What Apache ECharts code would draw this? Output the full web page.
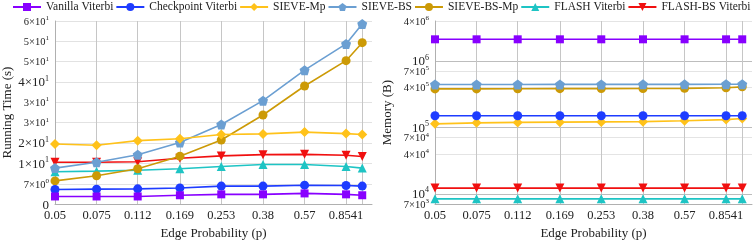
<!DOCTYPE html>
<html><head><meta charset="utf-8">
<script src="https://cdn.jsdelivr.net/npm/echarts@6/dist/echarts.min.js"></script>
<style>html,body{margin:0;padding:0;background:#fff}#c{width:753px;height:245px}</style>
</head><body><div id="c"></div>
<script>
// ---- data ----
const pValues = [0.05, 0.075, 0.112, 0.169, 0.253, 0.38, 0.57, 0.8541, 1.0];
const xTickLabels = ['0.05', '0.075', '0.112', '0.169', '0.253', '0.38', '0.57', '0.8541'];
const seriesNames = ['Vanilla Viterbi', 'Checkpoint Viterbi', 'SIEVE-Mp', 'SIEVE-BS', 'SIEVE-BS-Mp', 'FLASH Viterbi', 'FLASH-BS Viterbi'];

// Running time (s)
const timeVanilla    = [2.5, 2.5, 2.5, 2.9, 3.2, 3.2, 3.5, 3.2, 2.9];
const timeCheckpoint = [4.8, 4.9, 5.0, 5.3, 5.9, 5.9, 6.2, 6.1, 5.9];
const timeSieveMp    = [19.7, 19.3, 20.8, 21.4, 22.8, 23.0, 23.6, 23.1, 22.8];
const timeSieveBS    = [11.8, 13.7, 16.2, 20.2, 26.1, 33.9, 43.9, 52.5, 59.0];
const timeSieveBSMp  = [7.6, 9.3, 11.6, 15.7, 21.0, 29.2, 38.7, 47.0, 52.9];
const timeFlash      = [10.6, 10.8, 11.1, 11.6, 12.3, 13.0, 13.0, 12.3, 11.8];
const timeFlashBS    = [13.7, 13.7, 13.9, 15.0, 15.8, 16.2, 16.3, 16.0, 15.6];

// Memory (B)
const memVanilla    = [2.12e6, 2.12e6, 2.12e6, 2.12e6, 2.12e6, 2.12e6, 2.12e6, 2.12e6, 2.12e6];
const memCheckpoint = [1.5e5, 1.5e5, 1.5e5, 1.5e5, 1.5e5, 1.5e5, 1.5e5, 1.5e5, 1.5e5];
const memSieveMp    = [1.13e5, 1.17e5, 1.19e5, 1.2e5, 1.21e5, 1.22e5, 1.26e5, 1.31e5, 1.36e5];
const memSieveBS    = [4.42e5, 4.43e5, 4.43e5, 4.44e5, 4.44e5, 4.45e5, 4.45e5, 4.46e5, 4.46e5];
const memSieveBSMp  = [3.8e5, 3.8e5, 3.82e5, 3.83e5, 3.84e5, 3.85e5, 3.87e5, 3.95e5, 4.08e5];
const memFlash      = [8.4e3, 8.4e3, 8.4e3, 8.4e3, 8.4e3, 8.4e3, 8.4e3, 8.4e3, 8.4e3];
const memFlashBS    = [1.22e4, 1.22e4, 1.22e4, 1.22e4, 1.22e4, 1.22e4, 1.22e4, 1.22e4, 1.22e4];

const memTicks = [7e3, 1e4, 4e4, 7e4, 1e5, 4e5, 7e5, 1e6, 4e6];

// ---- styles ----
const FONT = 'Liberation Serif';
const colors = ['#8800ff', '#1e3cff', '#ffc21a', '#6b9fd2', '#cc9a06', '#1ec4c4', '#f01010'];
const symbols = ['rect', 'circle', 'diamond',
  'path://M0,-10 L9.5,-3.1 L5.9,8.1 L-5.9,8.1 L-9.5,-3.1 Z', 'circle', 'triangle', 'triangle'];
const symbolSizes = [8, 9, 10, 10, 9, 9, 9];
const symbolRotates = [0, 0, 0, 0, 0, 0, 180];
const bigTimeLabelIdx = [0, 2, 3, 6, 9];

const timeData = [timeVanilla, timeCheckpoint, timeSieveMp, timeSieveBS, timeSieveBSMp, timeFlash, timeFlashBS];
const memData = [memVanilla, memCheckpoint, memSieveMp, memSieveBS, memSieveBSMp, memFlash, memFlashBS];

const rich = {
  L: {fontFamily: FONT, fontSize: 13, lineHeight: 15, color: '#222', verticalAlign: 'bottom'},
  Ls: {fontFamily: FONT, fontSize: 8, lineHeight: 8, color: '#222', verticalAlign: 'top'},
  S: {fontFamily: FONT, fontSize: 10.5, lineHeight: 13, color: '#222', verticalAlign: 'bottom'},
  Ss: {fontFamily: FONT, fontSize: 7, lineHeight: 7, color: '#222', verticalAlign: 'top'}
};

function timeFmt(v, idx) {
  if (Math.abs(v) < 1e-9) return '{L|0}';
  const e = Math.floor(Math.log10(v) + 1e-9);
  const d = Math.round(v / Math.pow(10, e));
  return bigTimeLabelIdx.indexOf(idx) >= 0 ? `{L|${d}×10}{Ls|${e}}` : `{S|${d}×10}{Ss|${e}}`;
}
function memFmt(v) {
  const e = Math.floor(Math.log10(v) + 1e-9);
  const m = Math.round(v / Math.pow(10, e));
  return m === 1 ? `{L|10}{Ls|${e}}` : `{S|${m}×10}{Ss|${e}}`;
}
function xFmt(v) {
  const i = pValues.findIndex(p => Math.abs(p - v) < 1e-6);
  return (i >= 0 && i < xTickLabels.length) ? xTickLabels[i] : '';
}

function xAxis(gi) {
  return {
    type: 'log', logBase: 10, min: 0.05, max: 1.1, gridIndex: gi,
    name: 'Edge Probability (p)', nameLocation: 'middle', nameGap: 18,
    nameTextStyle: {fontFamily: FONT, fontSize: 13, color: '#222'},
    axisLine: {show: true, lineStyle: {color: '#b0b0b0', width: 1}},
    axisTick: {show: false, customValues: pValues},
    axisLabel: {customValues: pValues.slice(0, xTickLabels.length), formatter: xFmt, margin: 5,
      fontFamily: FONT, fontSize: 12.5, color: '#222', showMinLabel: true, showMaxLabel: true, hideOverlap: false},
    splitLine: {show: true, lineStyle: {color: '#c6c6c6', width: 1}}
  };
}

const series = [];
seriesNames.forEach((name, k) => {
  const common = {
    name, type: 'line', color: colors[k], symbol: symbols[k], symbolSize: symbolSizes[k],
    symbolRotate: symbolRotates[k], lineStyle: {width: 1.6}, itemStyle: {color: colors[k]},
    z: 10 - k
  };
  series.push(Object.assign({}, common, {xAxisIndex: 0, yAxisIndex: 0,
    data: pValues.map((p, i) => [p, timeData[k][i]])}));
  series.push(Object.assign({}, common, {xAxisIndex: 1, yAxisIndex: 1,
    data: pValues.map((p, i) => [p, memData[k][i]])}));
});

const option = {
  animation: false,
  backgroundColor: '#fff',
  legend: {
    data: seriesNames, top: 0, left: 12, right: 0, itemWidth: 28, itemHeight: 10, itemGap: 2,
    textStyle: {fontFamily: FONT, fontSize: 11.5, color: '#222'}, padding: [1, 0, 0, 0]
  },
  grid: [
    {left: 55, right: 381, top: 21, bottom: 33, containLabel: false},
    {left: 435, right: 1, top: 21, bottom: 33, containLabel: false}
  ],
  xAxis: [xAxis(0), xAxis(1)],
  yAxis: [
    {
      type: 'value', gridIndex: 0, min: 0, max: 60, interval: 20 / 3,
      name: 'Running Time (s)', nameLocation: 'middle', nameGap: 41,
      nameTextStyle: {fontFamily: FONT, fontSize: 13, color: '#222'},
      axisLine: {show: true, lineStyle: {color: '#b0b0b0'}}, axisTick: {show: false},
      axisLabel: {formatter: timeFmt, rich, margin: 6, showMinLabel: true, showMaxLabel: true, hideOverlap: false},
      splitLine: {show: true, lineStyle: {color: '#e2e2e2'}}
    },
    {
      type: 'log', logBase: 10, gridIndex: 1, min: 7e3, max: 4e6, position: 'left',
      name: 'Memory (B)', nameLocation: 'middle', nameGap: 41,
      nameTextStyle: {fontFamily: FONT, fontSize: 13, color: '#222'},
      axisLine: {show: true, lineStyle: {color: '#b0b0b0'}},
      axisTick: {show: false, customValues: memTicks},
      axisLabel: {customValues: memTicks.slice(1), formatter: memFmt, rich, margin: 6,
        showMinLabel: true, showMaxLabel: true, hideOverlap: false},
      splitLine: {show: true, lineStyle: {color: ['#e4e4e4', '#bdbdbd', '#e4e4e4']}}
    },
    {
      // overlay axis on the same scale, carrying only the bottom tick label
      type: 'log', logBase: 10, gridIndex: 1, min: 7e3, max: 4e6, position: 'left', offset: 0,
      axisLine: {show: false}, splitLine: {show: false},
      axisTick: {show: false, customValues: memTicks.slice(0, 1)},
      axisLabel: {customValues: memTicks.slice(0, 1), formatter: memFmt, rich, margin: 6,
        showMinLabel: true, showMaxLabel: true, hideOverlap: false}
    }
  ],
  series
};
echarts.init(document.getElementById('c'), null, {renderer: 'canvas'}).setOption(option);
</script>
</body></html>
